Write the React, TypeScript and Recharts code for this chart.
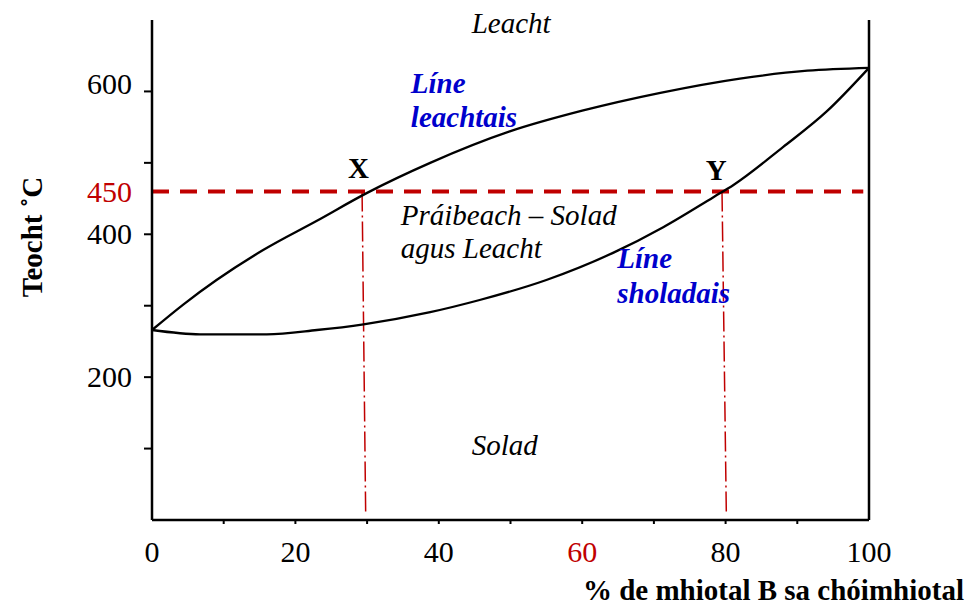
import React from 'react';
import { LineChart, Line, XAxis, YAxis, ReferenceLine, ReferenceDot, Label } from 'recharts';

// ---- data ----
const liquidusX = [0, 4.4, 9, 15.5, 23, 30, 38.8, 49.9, 60, 70.9, 82, 91.4, 100];
const liquidusT = [266, 302, 336, 378, 419, 458, 500, 544, 573, 598, 618, 629, 633];
const solidusX = [0, 6.7, 16, 23, 29.5, 38.8, 45.7, 55, 64.3, 71.3, 78.3, 81.1, 88, 94.1, 100];
const solidusT = [266, 260, 260, 266, 274, 291, 308, 336, 374, 410, 452, 469, 522, 572, 633];

const xTicks = [0, 10, 20, 30, 40, 50, 60, 70, 80, 90, 100];
const xLabeled = [0, 20, 40, 60, 80, 100];
const xHighlighted = [60];
const yTicks = [100, 200, 300, 400, 500, 600];
const yLabeled = [200, 400, 600];

const levelDrawn = 460; // where the dashed temperature line is drawn on the scale
const levelLabel = '450';
const levelEndX = 99.2;
const pointXTop = 29.3;
const pointXBottom = 29.8;
const pointYTop = 79.5;
const pointYBottom = 80.1;

const liquidus = liquidusX.map((x, i) => ({ x, t: liquidusT[i] }));
const solidus = solidusX.map((x, i) => ({ x, t: solidusT[i] }));

// ---- styles ----
const SERIF = "'Liberation Serif', 'Times New Roman', Times, 'DejaVu Serif', serif";
const RED = '#c00000';
const BLUE = '#0000cc';
const FS = 30;
const TFS = 29;

const LeftTick = (props: any) => {
  const { x, y, payload } = props;
  const v = payload.value;
  if (v === levelDrawn) {
    return (
      <text x={x - 20} y={y + 11} textAnchor="end" fill={RED} style={{ fontSize: FS, fontFamily: SERIF }}>
        {levelLabel}
      </text>
    );
  }
  const dy = v === 600 ? 3 : 10;
  return (
    <g>
      <line x1={x - 8} x2={x} y1={y} y2={y} stroke="#000" strokeWidth={2} />
      {yLabeled.includes(v) && (
        <text x={x - 20} y={y + dy} textAnchor="end" fill="#000" style={{ fontSize: FS, fontFamily: SERIF }}>
          {String(v)}
        </text>
      )}
    </g>
  );
};

const RightTick = (props: any) => {
  const { x, y } = props;
  return <line x1={x} x2={x + 8} y1={y} y2={y} stroke="#000" strokeWidth={2} />;
};

const BottomTick = (props: any) => {
  const { x, y, payload } = props;
  const v = payload.value;
  return (
    <g>
      {v !== 0 && v !== 100 && <line x1={x} x2={x} y1={y} y2={y + 4} stroke="#000" strokeWidth={2} />}
      {xLabeled.includes(v) && (
        <text
          x={x}
          y={y + 42}
          textAnchor="middle"
          fill={xHighlighted.includes(v) ? RED : '#000'}
          style={{ fontSize: FS, fontFamily: SERIF }}
        >
          {String(v)}
        </text>
      )}
    </g>
  );
};

const makeText = (
  lines: string[],
  opts: { anchor?: string; color?: string; italic?: boolean; bold?: boolean; lh?: number }
) =>
  (p: any) => (
    <text
      x={p.cx}
      y={p.cy}
      textAnchor={opts.anchor || 'start'}
      fill={opts.color || '#000'}
      style={{
        fontSize: TFS,
        fontFamily: SERIF,
        fontStyle: opts.italic ? 'italic' : 'normal',
        fontWeight: opts.bold ? 'bold' : 'normal',
      }}
    >
      {lines.map((l, i) => (
        <tspan key={i} x={p.cx} dy={i === 0 ? 0 : opts.lh || 34}>
          {l}
        </tspan>
      ))}
    </text>
  );

const YTitle = (p: any) => {
  const vb = p.viewBox || { x: 0, y: 20, width: 152, height: 500 };
  const cx = vb.x + 42;
  const cy = vb.y + vb.height / 2 - 33;
  return (
    <text
      x={cx}
      y={cy}
      transform={`rotate(-90, ${cx}, ${cy})`}
      textAnchor="middle"
      fill="#000"
      style={{ fontSize: TFS, fontWeight: 'bold', fontFamily: SERIF }}
    >
      Teocht ˚C
    </text>
  );
};

const XTitle = (p: any) => {
  const vb = p.viewBox || { x: 152, y: 520, width: 717, height: 87 };
  return (
    <text
      x={vb.x + vb.width + 95}
      y={vb.y + 80}
      textAnchor="end"
      fill="#000"
      style={{ fontSize: TFS, fontWeight: 'bold', fontFamily: SERIF }}
    >
      % de mhiotal B sa chóimhiotal
    </text>
  );
};

export default function App() {
  return (
    <div style={{ position: 'absolute', left: 0, top: 0, background: '#fff' }}>
      <LineChart width={971} height={607} margin={{ top: 20, right: 0, bottom: 0, left: 0 }}>
        <XAxis
          dataKey="x"
          type="number"
          domain={[0, 100]}
          ticks={xTicks}
          interval={0}
          height={87}
          tickSize={0}
          tickMargin={0}
          tickLine={false}
          tick={BottomTick}
          axisLine={{ stroke: '#000', strokeWidth: 2.5 }}
        >
          <Label content={XTitle} />
        </XAxis>
        <YAxis
          yAxisId="left"
          type="number"
          domain={[0, 700]}
          ticks={[...yTicks, levelDrawn]}
          interval={0}
          width={152}
          tickSize={0}
          tickMargin={0}
          tickLine={false}
          tick={LeftTick}
          axisLine={{ stroke: '#000', strokeWidth: 2.5 }}
        >
          <Label content={YTitle} />
        </YAxis>
        <YAxis
          yAxisId="right"
          orientation="right"
          type="number"
          domain={[0, 700]}
          ticks={yTicks}
          interval={0}
          width={102}
          tickSize={0}
          tickMargin={0}
          tickLine={false}
          tick={RightTick}
          axisLine={{ stroke: '#000', strokeWidth: 2.5 }}
        />
        <ReferenceLine
          yAxisId="left"
          segment={[
            { x: 0, y: levelDrawn },
            { x: levelEndX, y: levelDrawn },
          ]}
          stroke={RED}
          strokeWidth={4}
          strokeDasharray="17 11"
        />
        <ReferenceLine
          yAxisId="left"
          segment={[
            { x: pointXTop, y: levelDrawn },
            { x: pointXBottom, y: 10 },
          ]}
          stroke={RED}
          strokeWidth={1.5}
          strokeDasharray="20 4 2 4"
        />
        <ReferenceLine
          yAxisId="left"
          segment={[
            { x: pointYTop, y: levelDrawn },
            { x: pointYBottom, y: 10 },
          ]}
          stroke={RED}
          strokeWidth={1.5}
          strokeDasharray="20 4 2 4"
        />
        <Line
          yAxisId="left"
          data={liquidus}
          dataKey="t"
          type="monotone"
          stroke="#000"
          strokeWidth={2.3}
          dot={false}
          isAnimationActive={false}
        />
        <Line
          yAxisId="left"
          data={solidus}
          dataKey="t"
          type="monotone"
          stroke="#000"
          strokeWidth={2.3}
          dot={false}
          isAnimationActive={false}
        />
        <ReferenceDot yAxisId="left" x={50.1} y={682} r={0} shape={makeText(['Leacht'], { anchor: 'middle', italic: true })} />
        <ReferenceDot
          yAxisId="left"
          x={36.1}
          y={598}
          r={0}
          shape={makeText(['Líne', 'leachtais'], { color: BLUE, italic: true, bold: true, lh: 34 })}
        />
        <ReferenceDot yAxisId="left" x={28.8} y={479} r={0} shape={makeText(['X'], { anchor: 'middle', bold: true })} />
        <ReferenceDot yAxisId="left" x={78.7} y={476} r={0} shape={makeText(['Y'], { anchor: 'middle', bold: true })} />
        <ReferenceDot
          yAxisId="left"
          x={34.7}
          y={413}
          r={0}
          shape={makeText(['Práibeach – Solad', 'agus Leacht'], { italic: true, lh: 33 })}
        />
        <ReferenceDot
          yAxisId="left"
          x={64.9}
          y={353}
          r={0}
          shape={makeText(['Líne', 'sholadais'], { color: BLUE, italic: true, bold: true, lh: 35 })}
        />
        <ReferenceDot yAxisId="left" x={49.2} y={91} r={0} shape={makeText(['Solad'], { anchor: 'middle', italic: true })} />
      </LineChart>
    </div>
  );
}
